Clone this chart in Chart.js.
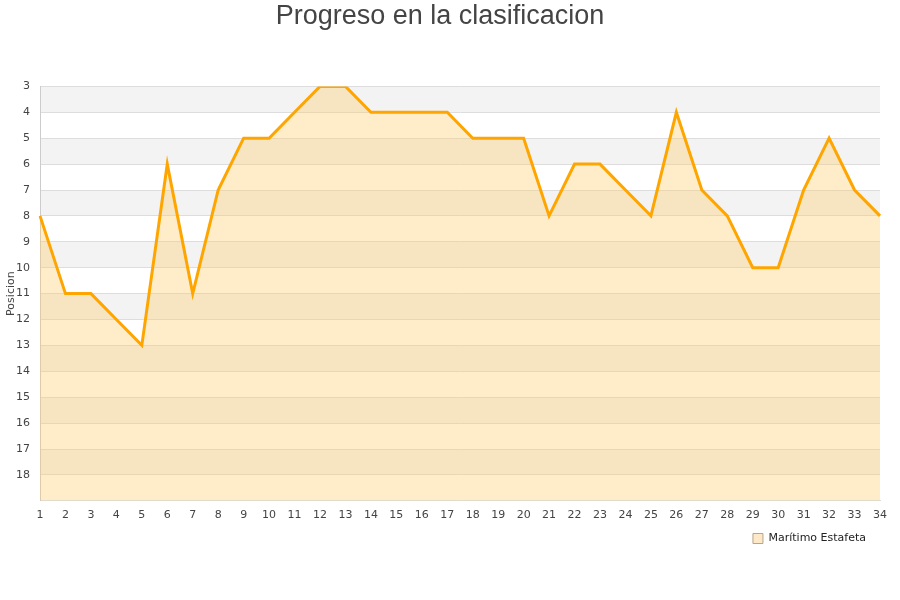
<!DOCTYPE html>
<html>
<head>
<meta charset="utf-8">
<script src="https://cdn.jsdelivr.net/npm/chart.js@4"></script>
<style>
  html, body { margin: 0; padding: 0; background: #fff; }
  #wrap { width: 900px; height: 600px; }
</style>
</head>
<body>
<div id="wrap"><canvas id="myChart" width="900" height="600"></canvas></div>
<script>
'use strict';
const jornadas = [1,2,3,4,5,6,7,8,9,10,11,12,13,14,15,16,17,18,19,20,21,22,23,24,25,26,27,28,29,30,31,32,33,34];
const posiciones = [8,11,11,12,13,6,11,7,5,5,4,3,3,4,4,4,4,5,5,5,8,6,6,7,8,4,7,8,10,10,7,5,7,8];
const equipo = 'Marítimo Estafeta';
const posMin = 3;
const posMax = 19;

// franjas grises alternas detras de la grafica
const bandas = {
  id: 'bandas',
  beforeDraw(chart) {
    const ctx = chart.ctx;
    const area = chart.chartArea;
    const y = chart.scales.y;
    ctx.save();
    ctx.fillStyle = '#f3f3f3';
    for (let v = posMin; v < posMax; v += 2) {
      const top = y.getPixelForValue(v);
      const bot = y.getPixelForValue(v + 1);
      ctx.fillRect(area.left, top, area.right - area.left, bot - top);
    }
    ctx.restore();
  }
};

// mover un poco la leyenda hacia la izquierda
const moverLeyenda = {
  id: 'moverLeyenda',
  afterLayout(chart) {
    chart.legend.left -= 11;
    chart.legend.right -= 11;
  }
};

const context = document.getElementById('myChart').getContext('2d');
new Chart(context, {
  type: 'line',
  data: {
    labels: jornadas,
    datasets: [{
      label: equipo,
      data: posiciones,
      borderColor: '#ffa500',
      backgroundColor: 'rgba(255,204,102,0.35)',
      borderWidth: 3,
      pointRadius: 0,
      tension: 0,
      fill: 'start'
    }]
  },
  options: {
    responsive: false,
    animation: false,
    layout: { padding: { left: 0, right: 20, top: 0, bottom: 46 } },
    plugins: {
      title: {
        display: true,
        text: 'Progreso en la clasificacion',
        color: '#444',
        font: { family: 'Liberation Sans', size: 27, weight: 'normal' },
        padding: { top: 0, bottom: 54 }
      },
      legend: {
        position: 'bottom',
        align: 'end',
        labels: {
          color: '#222',
          font: { family: 'DejaVu Sans', size: 11 },
          boxWidth: 10,
          boxHeight: 10,
          padding: 3,
          generateLabels(chart) {
            return [{
              text: equipo,
              fillStyle: '#fde9c8',
              strokeStyle: '#b8a58a',
              lineWidth: 1,
              fontColor: '#222',
              datasetIndex: 0
            }];
          }
        }
      },
      tooltip: { enabled: false }
    },
    scales: {
      x: {
        offset: false,
        grid: { display: false, drawTicks: false },
        border: { display: true, color: '#ddd' },
        ticks: {
          color: '#444',
          font: { family: 'DejaVu Sans', size: 11 },
          maxRotation: 0,
          autoSkip: false,
          padding: 8
        }
      },
      y: {
        reverse: true,
        min: posMin,
        max: posMax,
        grid: { color: '#ddd', drawTicks: false },
        border: { display: true, color: '#ccc' },
        title: {
          display: true,
          text: 'Posicion',
          color: '#444',
          font: { family: 'DejaVu Sans', size: 11 },
          padding: { top: 5, bottom: 0 }
        },
        ticks: {
          stepSize: 1,
          color: '#444',
          font: { family: 'DejaVu Sans', size: 11 },
          padding: 10,
          callback: v => (v === posMax ? '' : v)
        },
        afterFit(scale) { scale.width = 40; }
      }
    }
  },
  plugins: [bandas, moverLeyenda]
});
</script>
</body>
</html>
